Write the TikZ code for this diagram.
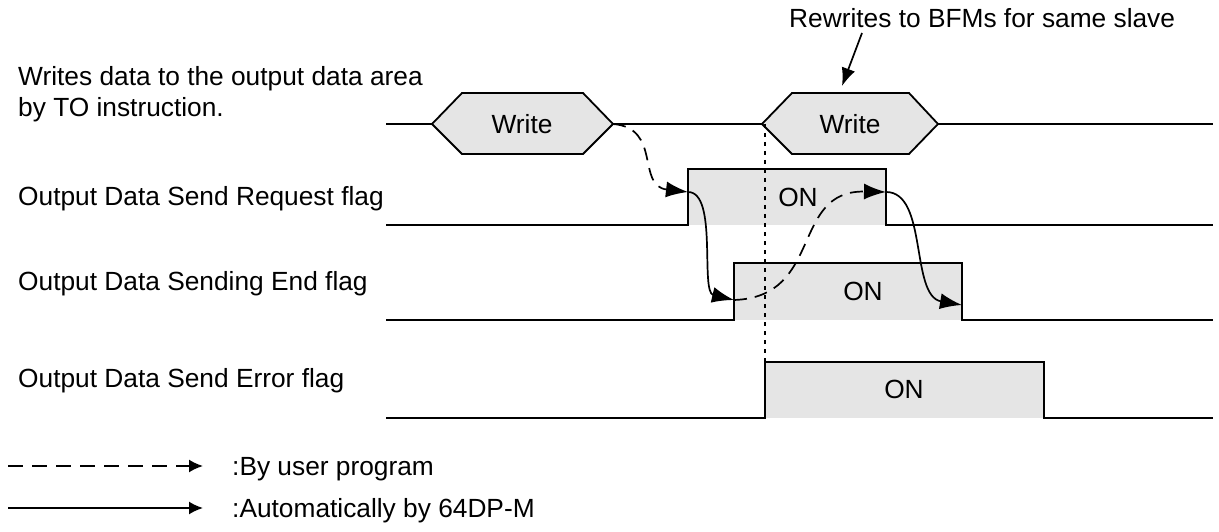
\documentclass[tikz,border=0pt]{standalone}
\usepackage{fontspec}
\setmainfont{Liberation Sans}
\usetikzlibrary{arrows.meta}
\definecolor{pulsefill}{HTML}{E5E5E5}
\begin{document}
\begin{tikzpicture}[x=1pt,y=-1pt,
 sig/.style={line width=1.8pt, line join=miter},
 lbl/.style={font=\fontsize{26.3}{31}\selectfont, inner sep=0pt, anchor=base west},
 ctext/.style={font=\fontsize{26.3}{31}\selectfont, inner sep=0pt},
 userarrow/.style={line width=1.7pt, dash pattern=on 13pt off 8pt, -{Latex[length=22pt,width=16pt]}},
 autoarrow/.style={line width=1.7pt, -{Latex[length=22pt,width=16pt]}},
 legdash/.style={line width=1.8pt, dash pattern=on 15pt off 9pt, -{Latex[length=14pt,width=13pt]}},
 legsolid/.style={line width=1.8pt, -{Latex[length=14pt,width=13pt]}},
]
\useasboundingbox (0,0) rectangle (1219,532);
% pulse fills
\fill[pulsefill] (688,169) rectangle (886,225);
\fill[pulsefill] (734,263) rectangle (962,320);
\fill[pulsefill] (765,362) rectangle (1044,418);
% write row
\draw[sig, fill=pulsefill] (432,124) -- (462,93) -- (583,93) -- (613,124) -- (583,154) -- (462,154) -- cycle;
\draw[sig, fill=pulsefill] (762,124) -- (792,93) -- (909,93) -- (938,124) -- (909,154) -- (792,154) -- cycle;
\draw[sig] (386,124) -- (432,124);
\draw[sig] (613,124) -- (762,124);
\draw[sig] (938,124) -- (1213,124);
\node[ctext] (w1) at (522,124) {Write};
\node[ctext] (w2) at (850,124) {Write};
% flag rows
\draw[sig] (386,225) -- (688,225) -- (688,169) -- (886,169) -- (886,225) -- (1213,225);
\draw[sig] (386,320) -- (734,320) -- (734,263) -- (962,263) -- (962,320) -- (1213,320);
\draw[sig] (386,418) -- (765,418) -- (765,362) -- (1044,362) -- (1044,418) -- (1213,418);
\node[ctext] (on1) at (798,197) {ON};
\node[ctext] (on2) at (863,291) {ON};
\node[ctext] (on3) at (904,389) {ON};
% dotted marker
\coordinate (dtop) at (765,124);
\coordinate (dbot) at (765,362);
\draw[line width=2pt, dash pattern=on 4pt off 5pt] (dtop) -- (dbot);
% left labels
\node[lbl] (t1) at (18,86) {Writes data to the output data area};
\node[lbl] (t2) at (18,117) {by TO instruction.};
\node[lbl] (t3) at (18,205) {Output Data Send Request flag};
\node[lbl] (t4) at (18,290) {Output Data Sending End flag};
\node[lbl] (t5) at (18,387) {Output Data Send Error flag};
% annotation
\node[lbl] (note) at (789,28) {Rewrites to BFMs for same slave};
\coordinate (noteA) at (862,33);
\coordinate (noteB) at (842,86);
\draw[line width=1.7pt, -{Latex[length=18pt,width=14pt]}] (noteA) -- (noteB);
% handshake arrows
\coordinate (w1r) at (613,124);
\coordinate (rqr) at (688,192);
\coordinate (ser) at (734,300);
\coordinate (rqf) at (886,192);
\coordinate (sef) at (962,305);
\draw[userarrow] (w1r) .. controls (662,128) and (636,186) .. (rqr);
\draw[autoarrow] (rqr) .. controls (718,192) and (700,292) .. (ser);
\draw[userarrow] (ser) .. controls (824,297) and (790,190) .. (rqf);
\draw[autoarrow] (rqf) .. controls (928,192) and (910,296) .. (sef);
% legend
\coordinate (l1a) at (8,466);
\coordinate (l1b) at (203,466);
\coordinate (l2a) at (8,508);
\coordinate (l2b) at (203,508);
\draw[legdash] (l1a) -- (l1b);
\draw[legsolid] (l2a) -- (l2b);
\node[lbl] (lg1) at (232,475) {:By user program};
\node[lbl] (lg2) at (232,517) {:Automatically by 64DP-M};
\end{tikzpicture}
\end{document}
